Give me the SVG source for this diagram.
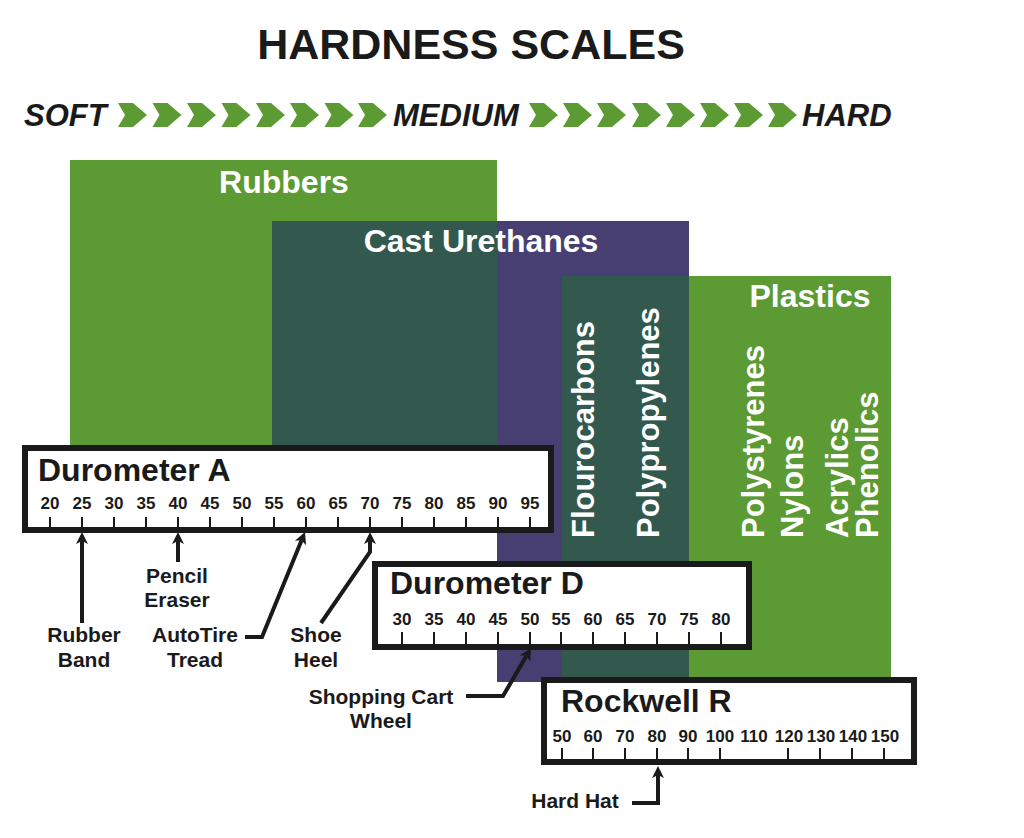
<svg xmlns="http://www.w3.org/2000/svg" width="1024" height="838" viewBox="0 0 1024 838">
<defs>
<style>
text{font-family:"Liberation Sans",Arial,sans-serif;font-weight:bold}
.title{font-size:43px;fill:#1a1a1a;text-anchor:middle}
.scale{font-size:31px;font-style:italic;fill:#1a1a1a}
.cat{font-size:31px;fill:#fff}
.cath{font-size:32px;fill:#fff;text-anchor:middle}
.box{fill:#fff;stroke:#1a1a1a;stroke-width:6}
.bt{font-size:32px;fill:#1a1a1a}
.num{font-size:17px;fill:#1a1a1a;text-anchor:middle}
.tick{stroke:#1a1a1a;stroke-width:2}
.lbl{font-size:21px;fill:#1a1a1a;text-anchor:middle}
.lead{fill:none;stroke:#1a1a1a;stroke-width:4;marker-end:url(#ah)}
.chev{fill:#5c9b33}
.green{fill:#5c9b33}
.purple{fill:#473f72}
.teal{fill:#33594f}
</style>
<marker id="ah" markerUnits="userSpaceOnUse" markerWidth="14" markerHeight="14" viewBox="0 -7 14 14" refX="3" refY="0" orient="auto">
<path d="M0,-6 L12,0 L0,6 L3,0 z" fill="#1a1a1a"/>
</marker>
<polygon id="chv" class="chev" points="0,-12 15,-12 29,0 15,12 0,12 7,0"/>
</defs>
<rect width="1024" height="838" fill="#fff"/>

<g id="title">
<text class="title" x="471" y="59">HARDNESS SCALES</text>
</g>

<g id="scale-row">
<text class="scale" x="24" y="126">SOFT</text>
<use href="#chv" x="118" y="115"/>
<use href="#chv" x="152.5" y="115"/>
<use href="#chv" x="187" y="115"/>
<use href="#chv" x="221.5" y="115"/>
<use href="#chv" x="256" y="115"/>
<use href="#chv" x="290" y="115"/>
<use href="#chv" x="324.5" y="115"/>
<use href="#chv" x="358" y="115"/>
<text class="scale" x="393" y="126">MEDIUM</text>
<use href="#chv" x="529" y="115"/>
<use href="#chv" x="563" y="115"/>
<use href="#chv" x="597" y="115"/>
<use href="#chv" x="632" y="115"/>
<use href="#chv" x="666" y="115"/>
<use href="#chv" x="700" y="115"/>
<use href="#chv" x="734" y="115"/>
<use href="#chv" x="768" y="115"/>
<text class="scale" x="802" y="126">HARD</text>
</g>

<g id="rubbers">
<rect class="green" x="70" y="160" width="427" height="290"/>
<text class="cath" x="284" y="193">Rubbers</text>
</g>

<g id="cast-urethanes">
<rect class="purple" x="497" y="221" width="192" height="461"/>
<rect class="teal" x="272" y="221" width="225" height="229"/>
<text class="cath" x="481" y="252">Cast Urethanes</text>
</g>

<g id="plastics">
<rect class="green" x="689" y="276" width="202" height="401"/>
<rect class="teal" x="562" y="276" width="127" height="406"/>
<text class="cath" x="810" y="307">Plastics</text>
<text class="cat" transform="translate(594,538) rotate(-90)">Flourocarbons</text>
<text class="cat" transform="translate(659,538) rotate(-90)">Polypropylenes</text>
<text class="cat" transform="translate(764,538) rotate(-90)">Polystyrenes</text>
<text class="cat" transform="translate(803,538) rotate(-90)">Nylons</text>
<text class="cat" transform="translate(848,538) rotate(-90)">Acrylics</text>
<text class="cat" transform="translate(878,538) rotate(-90)">Phenolics</text>
</g>

<g id="durometer-a">
<rect class="box" x="25" y="448" width="526" height="82"/>
<text class="bt" x="38" y="481">Durometer A</text>
<g class="num">
<text x="50" y="509">20</text><text x="82" y="509">25</text><text x="114" y="509">30</text><text x="146" y="509">35</text>
<text x="178" y="509">40</text><text x="210" y="509">45</text><text x="242" y="509">50</text><text x="274" y="509">55</text>
<text x="306" y="509">60</text><text x="338" y="509">65</text><text x="370" y="509">70</text><text x="402" y="509">75</text>
<text x="434" y="509">80</text><text x="466" y="509">85</text><text x="498" y="509">90</text><text x="530" y="509">95</text>
</g>
<path class="tick" d="M50,517V529M82,517V529M114,517V529M146,517V529M178,517V529M210,517V529M242,517V529M274,517V529M306,517V529M338,517V529M370,517V529M402,517V529M434,517V529M466,517V529M498,517V529M530,517V529"/>
</g>

<g id="durometer-d">
<rect class="box" x="375" y="564" width="374" height="83"/>
<text class="bt" x="390" y="594">Durometer D</text>
<g class="num">
<text x="402" y="625">30</text><text x="434" y="625">35</text><text x="466" y="625">40</text><text x="498" y="625">45</text>
<text x="530" y="625">50</text><text x="561" y="625">55</text><text x="593" y="625">60</text><text x="625" y="625">65</text>
<text x="657" y="625">70</text><text x="689" y="625">75</text><text x="721" y="625">80</text>
</g>
<path class="tick" d="M402,632V646M434,632V646M466,632V646M498,632V646M530,632V646M561,632V646M593,632V646M625,632V646M657,632V646M689,632V646M721,632V646"/>
</g>

<g id="rockwell-r">
<rect class="box" x="544" y="680" width="370" height="82"/>
<text class="bt" x="561" y="712">Rockwell R</text>
<g class="num">
<text x="562" y="742">50</text><text x="593" y="742">60</text><text x="625" y="742">70</text><text x="657" y="742">80</text>
<text x="688" y="742">90</text><text x="720" y="742">100</text><text x="754" y="742">110</text><text x="789" y="742">120</text>
<text x="821" y="742">130</text><text x="853" y="742">140</text><text x="885" y="742">150</text>
</g>
<path class="tick" d="M562,748V761M593,748V761M625,748V761M657,748V761M688,748V761M720,748V761M788,748V761M820,748V761M852,748V761M884,748V761"/>
</g>

<g id="connectors">
<path class="lead" d="M82,623V541"/>
<path class="lead" d="M178,562V541"/>
<path class="lead" d="M245,637H262L301.6,540.3"/>
<path class="lead" d="M321,623L370,552V541"/>
<path class="lead" d="M466,696H503L526.5,655.8"/>
<path class="lead" d="M632,803H658V775"/>
</g>

<g id="labels">
<text class="lbl" x="84" y="642">Rubber</text>
<text class="lbl" x="84" y="667">Band</text>
<text class="lbl" x="177" y="583">Pencil</text>
<text class="lbl" x="177" y="607">Eraser</text>
<text class="lbl" x="195" y="642">AutoTire</text>
<text class="lbl" x="195" y="667">Tread</text>
<text class="lbl" x="316" y="642">Shoe</text>
<text class="lbl" x="316" y="667">Heel</text>
<text class="lbl" x="381" y="704">Shopping Cart</text>
<text class="lbl" x="381" y="728">Wheel</text>
<text class="lbl" x="575" y="808">Hard Hat</text>
</g>
</svg>
